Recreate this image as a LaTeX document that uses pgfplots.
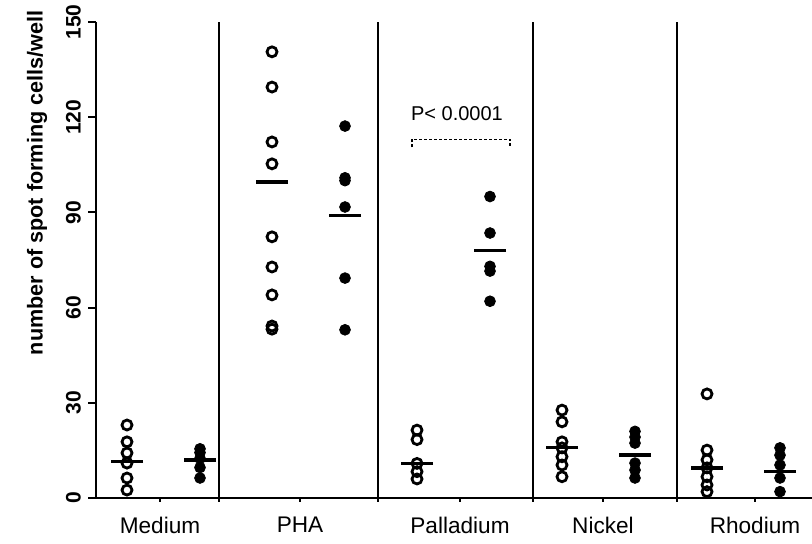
\documentclass[border=0pt]{standalone}
\usepackage{fontspec}
\setmainfont{Liberation Sans}
\usepackage{pgfplots}
\pgfplotsset{compat=1.18}
\usetikzlibrary{calc}

\begin{document}
\begin{tikzpicture}
\begin{axis}[
    scale only axis,
    width=358pt, height=238pt,
    xmin=0, xmax=716, ymin=0, ymax=150,
    clip=false,
    axis x line=bottom, axis y line=left,
    axis line style={-, line width=1pt},
    /pgf/number format/assume math mode=true,
    ytick={0,30,...,150},
    xtick={123,282,437,581},
    xticklabels={},
    xmajorgrids,
    grid style={black, line width=1pt},
    tick align=outside,
    major tick length=4pt,
    tick style={black, line width=1pt},
    xtick style={/pgfplots/major tick length=2pt},
    extra x ticks={64,204,364,507,659},
    extra x tick labels={Medium,PHA,Palladium,Nickel,Rhodium},
    extra x tick style={grid=none, major tick length=0pt,
        tick label style={yshift=-6pt, font=\fontsize{11.3}{13}\selectfont}},
    yticklabel style={rotate=90, anchor=south, font=\bfseries\fontsize{10.5}{12}\selectfont},
    ylabel={number of spot forming cells/well},
    ylabel style={font=\bfseries\fontsize{10.8}{12}\selectfont,
        at={(axis description cs:-0.0824,0.662)}, anchor=center},
]
% open circles
\addplot[only marks, black, mark=o, mark size=2.5pt, mark options={line width=1.4pt}] table {
x y
31 23.0
31 17.7
31 14.2
31 11.0
31 6.3
31 2.5
176 140.6
176 129.5
176 112.2
176 105.3
176 82.3
176 72.8
176 64.0
176 54.2
176 53.2
321 21.4
321 18.4
321 10.9
321 8.3
321 6.0
466 27.7
466 24.0
466 17.7
466 15.8
466 13.0
466 10.4
466 6.7
611 32.8
611 15.1
611 12.0
611 9.5
611 6.7
611 4.1
611 2.0
};
% filled dots
\addplot[only marks, black, mark=*, mark size=2.7pt] table {
x y
104 15.5
104 14.3
104 12.5
104 9.6
104 6.3
249 117.2
249 100.9
249 100.0
249 91.7
249 69.3
249 53.0
394 95.0
394 83.5
394 73.0
394 71.5
394 62.0
539 21.0
539 19.2
539 17.3
539 11.0
539 8.8
539 6.3
684 15.8
684 13.5
684 10.4
684 6.3
684 2.0
};
% group means
\addplot[only marks, black, mark=-, mark size=8pt, mark options={line width=1.8pt}] table {
x y
31 11.5
104 12.0
176 99.5
249 89.0
321 10.9
394 78.0
466 15.9
539 13.6
611 9.5
684 8.3
};
% significance bracket
\addplot[black, line width=0.8pt, dash pattern=on 1.5pt off 1pt] coordinates {
(316,110.5) (316,113) (414,113) (414,110.5)
};
\node[font=\fontsize{10}{12}\selectfont] at (axis cs:361,121) {P< 0.0001};
\coordinate (bl) at (rel axis cs:0,0);
\coordinate (tr) at (rel axis cs:1,1);
\end{axis}
\pgfresetboundingbox
\path ($(bl)+(-48pt,-23pt)$) rectangle ($(tr)+(0pt,11pt)$);
\end{tikzpicture}
\end{document}
